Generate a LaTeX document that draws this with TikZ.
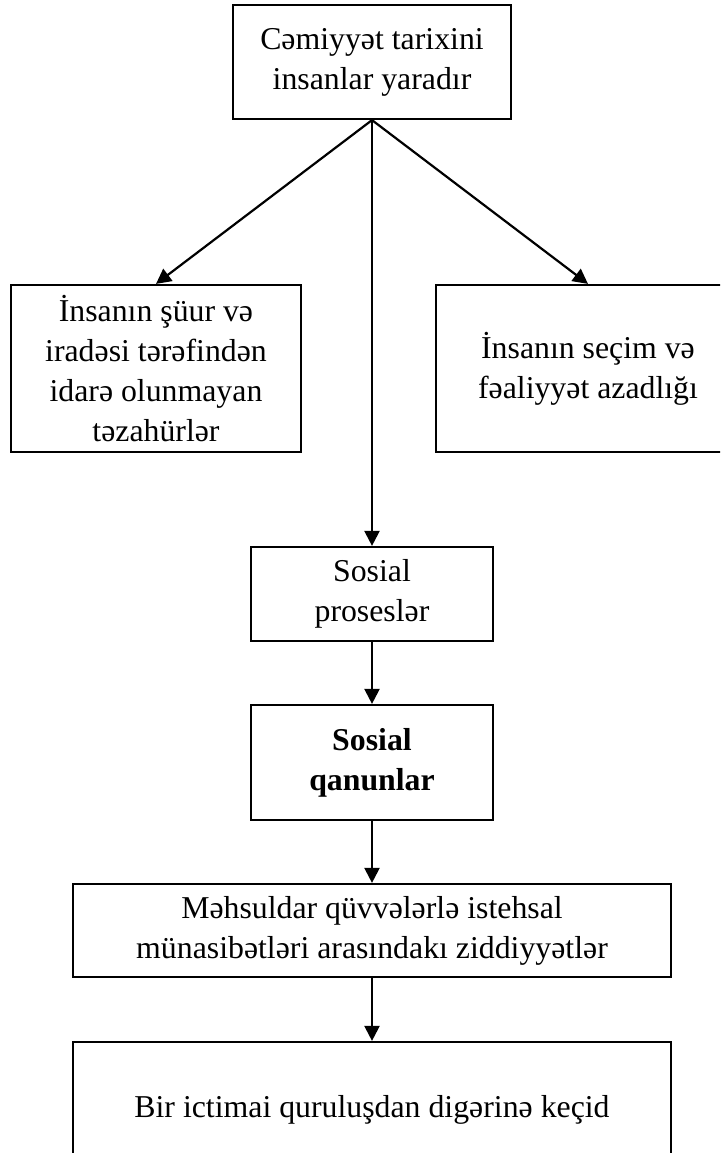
\documentclass[tikz,border=0pt]{standalone}
\usepackage{fontspec}
\setmainfont{Liberation Serif}
\usetikzlibrary{arrows.meta,positioning}

\begin{document}
\begin{tikzpicture}[x=0.5pt,y=-0.5pt,
	box/.style={draw, line width=1.1pt, rectangle, inner sep=0pt, align=center,
		font=\fontsize{15.9}{20}\selectfont},
	arr/.style={line width=1.1pt, -{Triangle[length=7.5pt,width=7.5pt]}}]
			\useasboundingbox (0,0) rectangle (720,1153);
			\clip (0,0) rectangle (720,1153);

			\node[box, minimum width=139pt, minimum height=57pt] (top) at (372,62) {Cəmiyyət tarixini\\insanlar yaradır};
			\node[box, minimum width=145pt, minimum height=83.5pt] (left) at (156,368.5) {İnsanın şüur və\\iradəsi tərəfindən\\idarə olunmayan\\təzahürlər};
			\node[box, minimum width=152pt, minimum height=83.5pt] (right) at (588,368.5) {İnsanın seçim və\\fəaliyyət azadlığı};
			\node[box, minimum width=121pt, minimum height=47pt] (proses) at (372,594) {Sosial\\proseslər};
			\node[box, minimum width=121pt, minimum height=57.5pt, font=\fontsize{15.9}{20}\selectfont\bfseries] (qanun) at (372,762.5) {Sosial\\qanunlar};
			\node[box, minimum width=299pt, minimum height=46.5pt] (ziddiyyet) at (372,930.5) {Məhsuldar qüvvələrlə istehsal\\münasibətləri arasındakı ziddiyyətlər};
			\node[box, minimum width=299pt, minimum height=68pt] (kecid) at (372,1110) {Bir ictimai quruluşdan digərinə keçid};

			\draw[arr] (top.south) -- (left.north);
			\draw[arr] (top.south) -- (right.north);
			\draw[arr] (top.south) -- (proses.north);
			\draw[arr] (proses) -- (qanun);
			\draw[arr] (qanun) -- (ziddiyyet);
			\draw[arr] (ziddiyyet) -- (kecid);
		\end{tikzpicture}
\end{document}
